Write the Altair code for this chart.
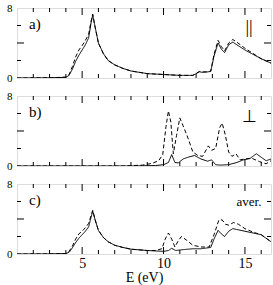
import altair as alt
import pandas as pd

# ---------------- data ----------------
# panel a) parallel
a_solid_E = [1, 3, 4.0, 4.2, 4.4, 4.6, 4.8, 5.0, 5.2, 5.4, 5.55, 5.65, 5.8, 6.0, 6.3, 6.6, 7.0, 7.5, 8.0, 8.5, 9.0,
             10.0, 11.0, 11.8, 12.2, 12.4, 12.7, 12.9, 13.1, 13.35, 13.55, 13.75, 14.0, 14.25, 14.5, 15.0, 15.5, 16.0, 16.6]
a_solid_v = [0, 0.02, 0.08, 0.3, 1.0, 1.9, 2.6, 3.2, 3.8, 4.6, 6.3, 7.2, 5.8, 4.0, 2.8, 2.0, 1.5, 1.1, 0.8, 0.65, 0.5,
             0.4, 0.3, 0.3, 0.7, 0.65, 0.7, 0.75, 2.5, 4.0, 3.3, 2.9, 3.8, 4.1, 3.8, 3.2, 2.7, 2.2, 1.7]
a_dash_E = [1, 3, 4.0, 4.2, 4.4, 4.6, 4.8, 5.0, 5.2, 5.4, 5.55, 5.65, 5.8, 6.0, 6.3, 6.6, 7.0, 7.5, 8.0, 8.5, 9.0,
            10.0, 11.0, 11.8, 12.2, 12.4, 12.7, 12.9, 13.1, 13.35, 13.55, 13.75, 14.0, 14.25, 14.5, 15.0, 15.5, 16.0, 16.6]
a_dash_v = [0, 0.02, 0.1, 0.4, 1.3, 2.4, 3.2, 3.7, 4.3, 5.0, 6.5, 7.3, 5.8, 4.0, 2.8, 2.0, 1.5, 1.1, 0.8, 0.65, 0.5,
            0.4, 0.3, 0.3, 0.75, 0.7, 0.7, 0.8, 2.7, 4.3, 3.6, 3.1, 4.0, 4.4, 4.1, 3.4, 2.8, 2.2, 1.7]

# panel b) perpendicular
b_solid_E = [1, 8, 9.5, 10.0, 10.3, 10.5, 10.7, 10.9, 11.2, 11.5, 11.9, 12.3, 12.7, 12.95, 13.2, 13.5, 14.0, 14.5,
             14.9, 15.3, 15.7, 16.0, 16.3, 16.6]
b_solid_v = [0, 0, 0.05, 0.15, 0.4, 1.3, 0.4, 0.35, 0.8, 1.0, 1.2, 0.8, 0.55, 0.7, 0.15, 0.1, 0.15, 0.4,
             0.7, 0.85, 1.4, 1.0, 0.6, 0.8]
b_dash_E = [1, 7.5, 8.7, 9.3, 9.7, 9.95, 10.15, 10.3, 10.45, 10.6, 10.8, 11.0, 11.2, 11.5, 11.8, 12.1, 12.4, 12.75,
            12.95, 13.2, 13.45, 13.6, 13.8, 14.0, 14.2, 14.45, 14.7, 15.0, 15.4, 15.9, 16.3, 16.6]
b_dash_v = [0, 0, 0.1, 0.3, 0.6, 1.3, 4.5, 6.3, 5.0, 1.4, 3.5, 5.5, 4.6, 3.2, 1.6, 1.2, 1.1, 2.3,
            1.8, 2.0, 4.4, 4.9, 3.5, 1.6, 1.1, 1.4, 0.7, 0.8, 0.9, 0.5, 0.25, 0.6]

# panel c) average
c_solid_E = [1, 3, 4.0, 4.2, 4.4, 4.6, 4.8, 5.0, 5.2, 5.4, 5.55, 5.65, 5.8, 6.0, 6.3, 6.6, 7.0, 7.5, 8.0, 9.0,
             10.0, 10.3, 10.5, 10.75, 11.2, 11.8, 12.3, 12.9, 13.1, 13.35, 13.55, 13.75, 14.0, 14.25, 14.5, 15.0,
             15.5, 16.0, 16.6]
c_solid_v = [0, 0.01, 0.05, 0.2, 0.7, 1.3, 1.8, 2.2, 2.6, 3.1, 4.2, 4.9, 3.9, 2.7, 1.9, 1.4, 1.0, 0.75, 0.55, 0.4,
             0.3, 0.4, 0.65, 0.4, 0.5, 0.6, 0.6, 0.75, 1.7, 2.7, 2.3, 2.0, 2.6, 2.9, 2.8, 2.6, 2.4, 2.2, 1.4]
c_dash_E = [1, 3, 4.0, 4.2, 4.4, 4.6, 4.8, 5.0, 5.2, 5.4, 5.55, 5.65, 5.8, 6.0, 6.3, 6.6, 7.0, 7.5, 8.0, 9.0,
            9.5, 9.9, 10.1, 10.3, 10.5, 10.7, 10.9, 11.1, 11.4, 11.8, 12.3, 12.8, 13.1, 13.4, 13.6, 13.8, 14.0,
            14.3, 14.6, 15.0, 15.5, 16.0, 16.6]
c_dash_v = [0, 0.01, 0.05, 0.3, 0.9, 1.7, 2.3, 2.6, 3.0, 3.5, 4.4, 5.0, 3.9, 2.7, 1.9, 1.4, 1.0, 0.75, 0.55, 0.4,
            0.4, 0.6, 1.7, 2.4, 1.7, 0.8, 1.5, 2.0, 1.6, 1.0, 0.8, 0.8, 2.2, 3.9, 3.9, 3.4, 3.3,
            3.6, 3.4, 2.9, 2.5, 2.2, 1.4]

x_major = [5, 10, 15]
x_minor = [2, 3, 4, 6, 7, 8, 9, 11, 12, 13, 14, 16]
y_major = [4]
y_minor = [2, 6]
y_labels = [0, 4, 8]

panel_labels = ["a)", "b)", "c)"]
symbols = ["||", "\u22a5", "aver."]

# ---------------- layout ----------------
W, H = 254, 70
XMIN, XMAX = 1, 16.6
FONT = "Liberation Serif"

xscale = alt.Scale(domain=[XMIN, XMAX], nice=False, zero=False)
yscale = alt.Scale(domain=[0, 8], nice=False)


def make_panel(sE, sv, dE, dv, lab, sym, sym_size, sym_y, show_x):
    df = pd.concat([
        pd.DataFrame({"E": sE, "v": sv, "kind": "solid"}),
        pd.DataFrame({"E": dE, "v": dv, "kind": "dashed"}),
    ])
    if show_x:
        xaxis = alt.Axis(values=x_major, title="E (eV)", labelFont=FONT, titleFont=FONT,
                         labelFontSize=14, titleFontSize=14, titleFontWeight="normal",
                         tickSize=0, domain=False, grid=False, labelPadding=2,
                         titlePadding=0, labelColor="black", titleColor="black")
    else:
        xaxis = None
    yaxis = alt.Axis(values=y_labels, title=None, labelFont=FONT, labelFontSize=11, tickSize=0,
                     domain=False, grid=False, labelPadding=5, labelColor="black")
    lines = alt.Chart(df).mark_line(color="black", strokeWidth=1, clip=True).encode(
        x=alt.X("E:Q", scale=xscale, axis=xaxis),
        y=alt.Y("v:Q", scale=yscale, axis=yaxis),
        strokeDash=alt.StrokeDash("kind:N", scale=alt.Scale(domain=["solid", "dashed"],
                                                            range=[[1, 0], [4, 2.5]]), legend=None),
        detail="kind:N",
    )
    layers = [lines]
    tdx_maj = pd.DataFrame({"t": x_major})
    tdx_min = pd.DataFrame({"t": x_minor})
    tdy_maj = pd.DataFrame({"t": y_major})
    tdy_min = pd.DataFrame({"t": y_minor})
    for tdf, ln in [(tdx_maj, 7), (tdx_min, 4)]:
        layers.append(alt.Chart(tdf).mark_rule(color="black", strokeWidth=1).encode(
            x=alt.X("t:Q", scale=xscale), y=alt.value(H), y2=alt.value(H - ln)))
        layers.append(alt.Chart(tdf).mark_rule(color="black", strokeWidth=1).encode(
            x=alt.X("t:Q", scale=xscale), y=alt.value(0), y2=alt.value(ln)))
    for tdf, ln in [(tdy_maj, 7), (tdy_min, 4)]:
        layers.append(alt.Chart(tdf).mark_rule(color="black", strokeWidth=1).encode(
            y=alt.Y("t:Q", scale=yscale), x=alt.value(0), x2=alt.value(ln)))
        layers.append(alt.Chart(tdf).mark_rule(color="black", strokeWidth=1).encode(
            y=alt.Y("t:Q", scale=yscale), x=alt.value(W), x2=alt.value(W - ln)))
    txt = pd.DataFrame({"lab": [lab], "sym": [sym]})
    layers.append(alt.Chart(txt).mark_text(font=FONT, fontSize=15, align="left", baseline="middle",
                                           color="black").encode(
        text="lab:N", x=alt.value(12), y=alt.value(16)))
    layers.append(alt.Chart(txt).mark_text(font=FONT, fontSize=sym_size, align="center", baseline="middle",
                                           color="black").encode(
        text="sym:N", x=alt.value(232), y=alt.value(sym_y)))
    return alt.layer(*layers).properties(width=W, height=H)


pa = make_panel(a_solid_E, a_solid_v, a_dash_E, a_dash_v, panel_labels[0], symbols[0], 18, 20, False)
pb = make_panel(b_solid_E, b_solid_v, b_dash_E, b_dash_v, panel_labels[1], symbols[1], 17, 21, False)
pc = make_panel(c_solid_E, c_solid_v, c_dash_E, c_dash_v, panel_labels[2], symbols[2], 13, 18, True)

chart = alt.vconcat(pa, pb, pc, spacing=5).properties(
    padding={"left": 6, "top": 1, "right": 0, "bottom": 0},
).configure_view(stroke="black", strokeWidth=1).configure(background="white")

chart.save("out.html", embed_options={"renderer": "svg", "actions": False})
